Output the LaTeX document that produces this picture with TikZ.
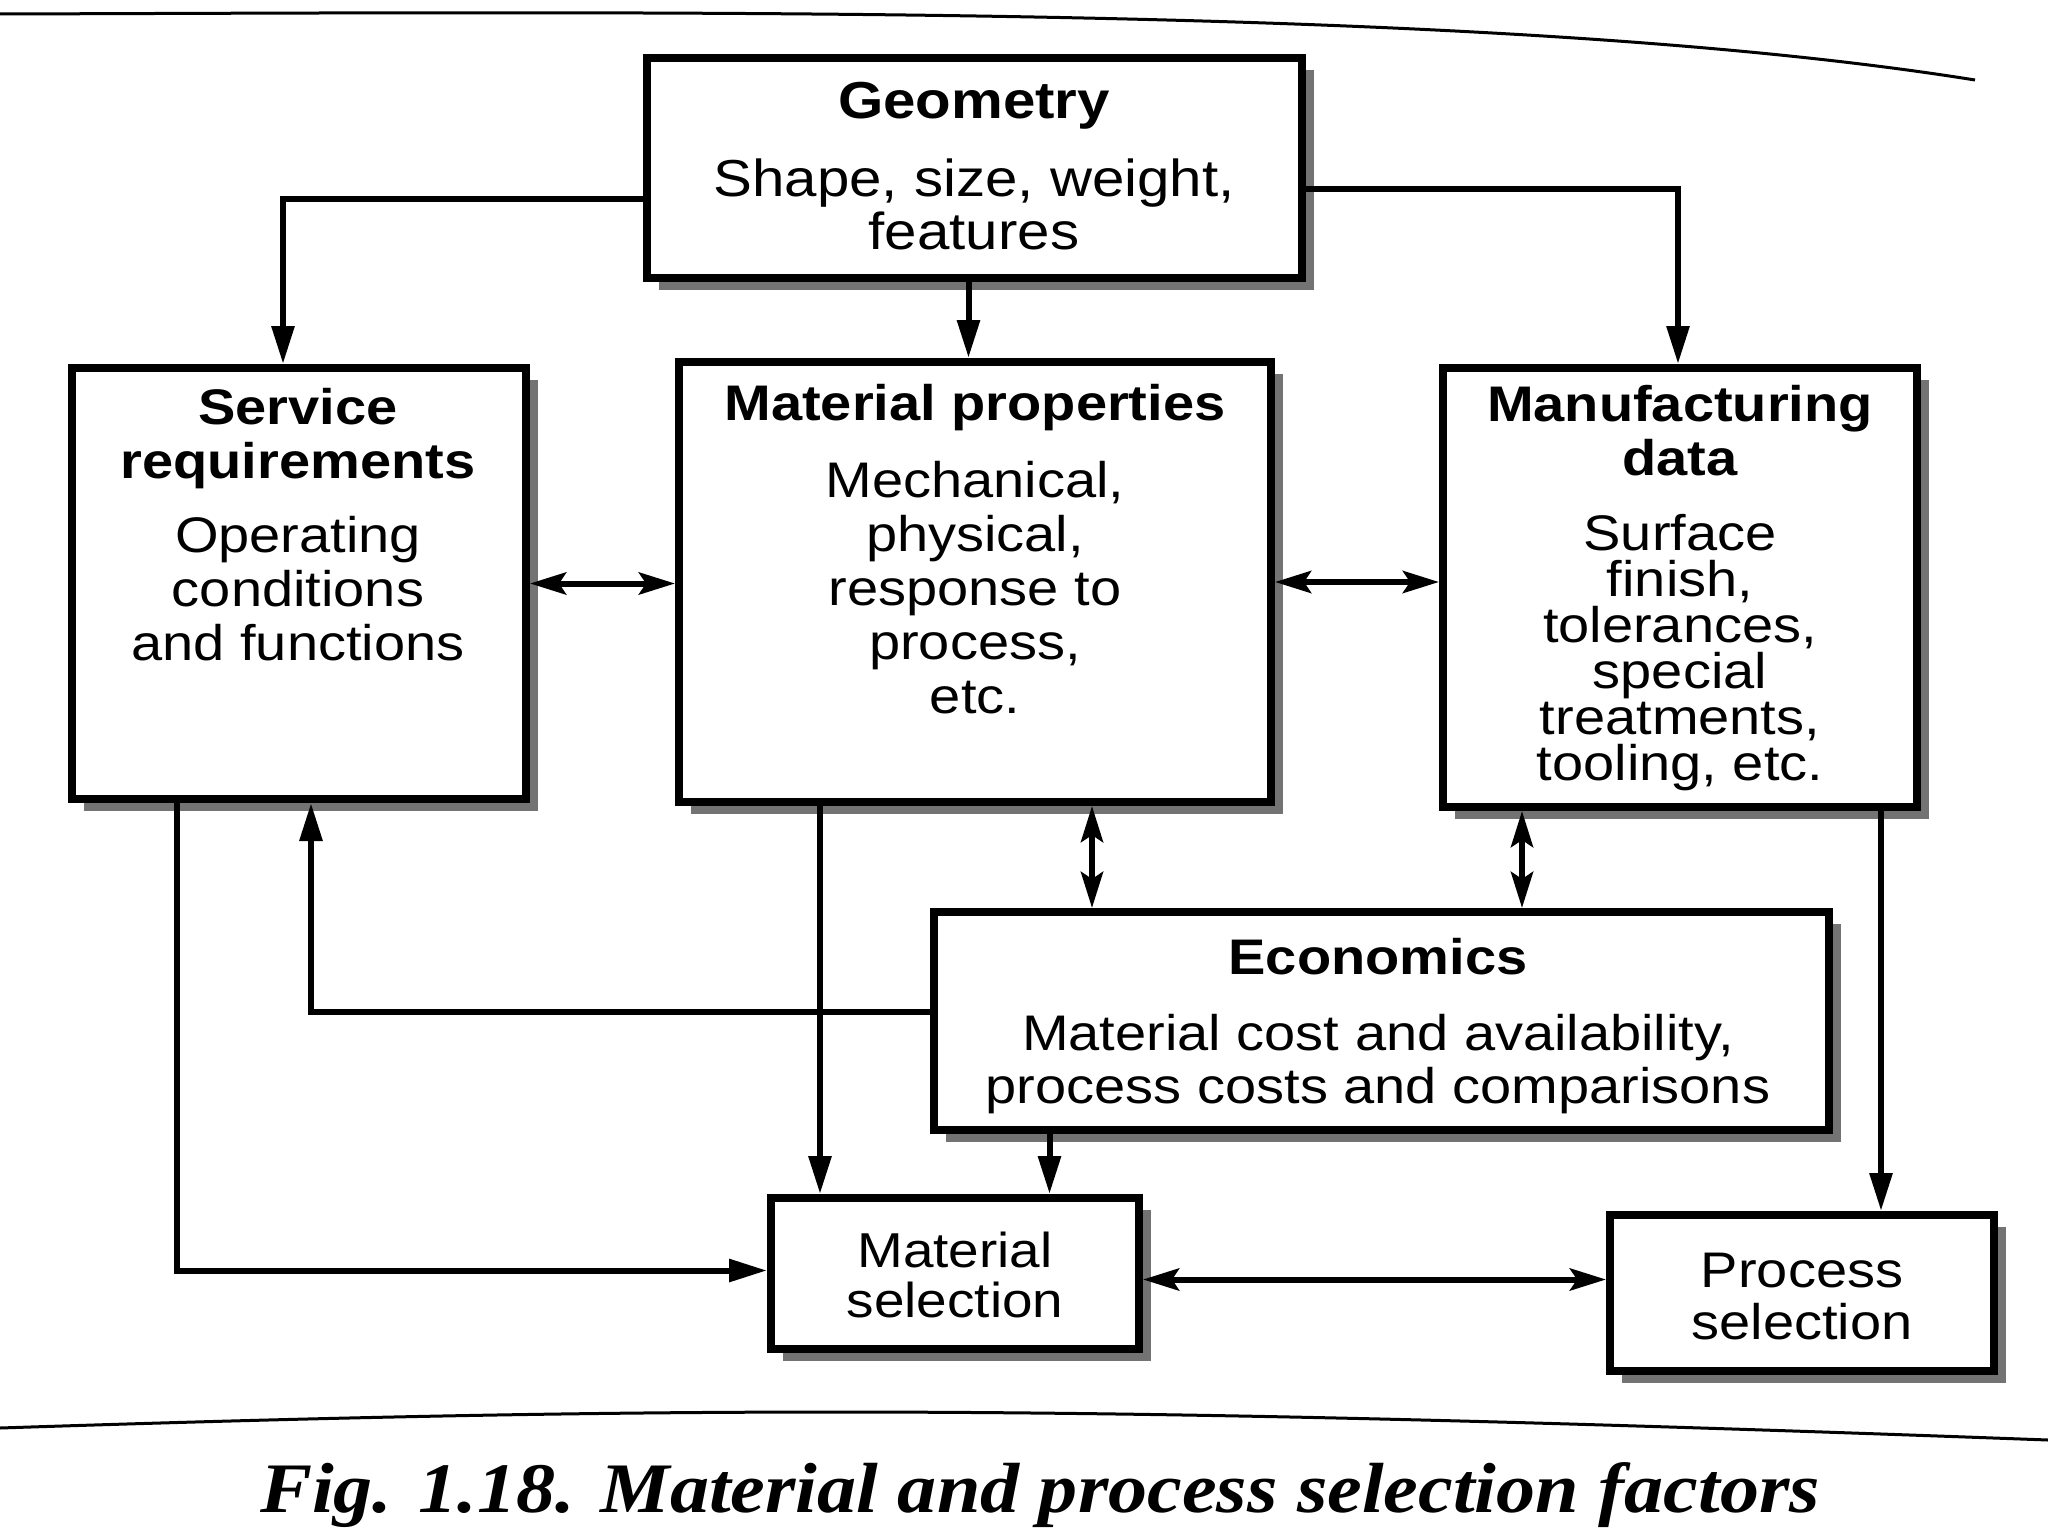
\documentclass[tikz,border=0pt]{standalone}
\usepackage{fontspec}
\setmainfont{Liberation Sans}[FakeStretch=1.12]
\newfontfamily\capfont{Liberation Serif}[FakeStretch=1.1]
\usetikzlibrary{arrows.meta,shadows}
\tikzset{
  box/.style={draw, line width=8pt, fill=white, inner sep=0pt,
    drop shadow={shadow xshift=12pt, shadow yshift=-12pt, fill=black!55, opacity=1}},
  txt/.style={align=center, inner sep=0pt, anchor=north},
  conn/.style={line width=6pt, -{Triangle[length=38pt,width=22pt]}},
  bi/.style={line width=6pt, {Stealth[length=36pt,width=22pt,inset=7pt]}-{Stealth[length=36pt,width=22pt,inset=7pt]}},
  rule/.style={line width=3pt},
}
\begin{document}
\begin{tikzpicture}[x=1pt,y=-1pt]
\fill[white] (0,0) rectangle (2048,1536);
\useasboundingbox (0,0) rectangle (2048,1536);

% boxes
\node[box, minimum width=655pt, minimum height=220pt] (geo) at (974.5,168) {};
\node[box, minimum width=454pt, minimum height=431pt] (srv) at (299,583.5) {};
\node[box, minimum width=592pt, minimum height=440pt] (mp) at (975,582) {};
\node[box, minimum width=474pt, minimum height=439pt] (mf) at (1680,587.5) {};
\node[box, minimum width=895pt, minimum height=218pt] (econ) at (1381.5,1021) {};
\node[box, minimum width=368pt, minimum height=151pt] (ms) at (955,1273.5) {};
\node[box, minimum width=384pt, minimum height=156pt] (ps) at (1802,1293) {};

% texts
\node[txt, font=\fontsize{52}{53}\selectfont] (geot) at (974,82)
  {\textbf{Geometry}\\[25pt]Shape, size, weight,\\features};
\node[txt, font=\fontsize{50}{54}\selectfont] (srvt) at (298,388)
  {\textbf{Service}\\\textbf{requirements}\\[20pt]Operating\\conditions\\and functions};
\node[txt, font=\fontsize{50}{54}\selectfont] (mpt) at (975,384)
  {\textbf{Material properties}\\[23pt]Mechanical,\\physical,\\response to\\process,\\etc.};
\node[txt, font=\fontsize{50}{46}\selectfont] (mft) at (1680,385)
  {\textbf{Manufacturing}\\[6pt]\textbf{data}\\[29pt]Surface\\finish,\\tolerances,\\special\\treatments,\\tooling, etc.};
\node[txt, font=\fontsize{50}{53}\selectfont] (econt) at (1378,938)
  {\textbf{Economics}\\[23pt]Material cost and availability,\\process costs and comparisons};
\node[txt, font=\fontsize{49}{50}\selectfont] (mst) at (955,1232)
  {Material\\selection};
\node[txt, font=\fontsize{50}{52}\selectfont] (pst) at (1802,1253)
  {Process\\selection};

% connectors
\draw[conn] ([yshift=-31pt]geo.west) -| ([xshift=-16pt]srv.north);
\draw[conn] ([xshift=-6pt]geo.south) -- ([xshift=-6pt]geo.south |- mp.north);
\draw[conn] ([yshift=-21pt]geo.east) -| ([xshift=-2pt]mf.north);
\draw[bi] (srv.east) -- (srv.east -| mp.west);
\draw[bi] (mp.east) -- (mp.east -| mf.west);
\draw[bi] ([xshift=117pt]mp.south) -- ([xshift=117pt]mp.south |- econ.north);
\draw[bi] ([xshift=-158pt]mf.south) -- ([xshift=-158pt]mf.south |- econ.north);
\draw[conn] ([yshift=9pt]econ.west) -| ([xshift=12pt]srv.south);
\draw[conn] ([xshift=-155pt]mp.south) -- ([xshift=-155pt]mp.south |- ms.north);
\draw[conn] ([xshift=-332pt]econ.south) -- ([xshift=-332pt]econ.south |- ms.north);
\draw[conn] ([xshift=-122pt]srv.south) |- ([yshift=3pt]ms.west);
\draw[bi] ([yshift=-6pt]ms.east) -- ([yshift=-6pt]ms.east -| ps.west);
\draw[conn] ([xshift=201pt]mf.south) -- ([xshift=201pt]mf.south |- ps.north);

% page rules and caption
\draw[rule] (0,14) .. controls (700,12) and (1500,4) .. (1975,80);
\draw[rule] (0,1428) .. controls (700,1405) and (1100,1405) .. (2048,1440);
\node[inner sep=0pt, font=\capfont\bfseries\itshape\fontsize{71}{76}\selectfont] (cap) at (1040,1495)
  {Fig. 1.18. Material and process selection factors};
\end{tikzpicture}
\end{document}
